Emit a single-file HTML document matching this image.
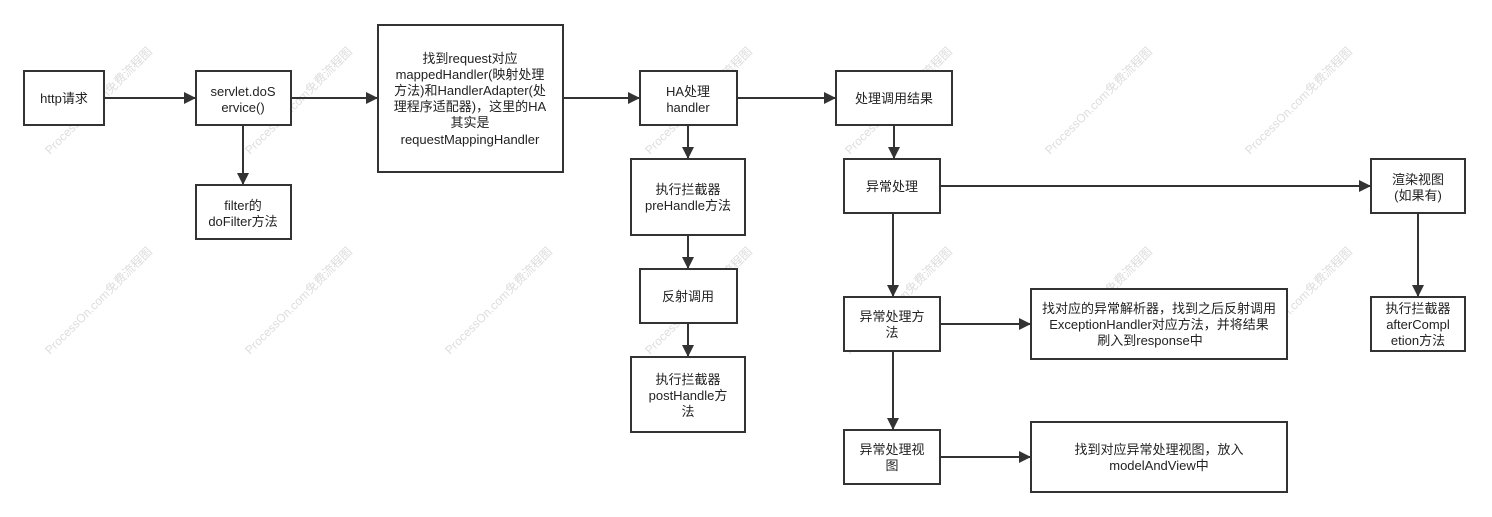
<!DOCTYPE html>
<html><head><meta charset="utf-8"><style>
html,body{margin:0;padding:0;background:#fff;width:1492px;height:517px;overflow:hidden;}
svg{display:block;overflow:hidden;}
text{font-family:"Liberation Sans","Noto Sans CJK SC",sans-serif;font-size:13px;fill:#222;text-anchor:middle;}
rect{fill:#fff;stroke:#333;stroke-width:2;}
line{stroke:#333;stroke-width:2;}
.w{font-size:12px;fill:#ddd;text-anchor:start;}
</style></head><body>
<svg width="1492" height="517" viewBox="0 0 1492 517">
<defs><marker id="a" markerWidth="12" markerHeight="12" refX="11" refY="6" orient="auto" markerUnits="userSpaceOnUse"><path d="M0,0 L12,6 L0,12 z" fill="#333"/></marker></defs>
<g>
<text class="w" transform="translate(50,155) rotate(-45)">ProcessOn.com免费流程图</text>
<text class="w" transform="translate(250,155) rotate(-45)">ProcessOn.com免费流程图</text>
<text class="w" transform="translate(450,155) rotate(-45)">ProcessOn.com免费流程图</text>
<text class="w" transform="translate(650,155) rotate(-45)">ProcessOn.com免费流程图</text>
<text class="w" transform="translate(850,155) rotate(-45)">ProcessOn.com免费流程图</text>
<text class="w" transform="translate(1050,155) rotate(-45)">ProcessOn.com免费流程图</text>
<text class="w" transform="translate(1250,155) rotate(-45)">ProcessOn.com免费流程图</text>
<text class="w" transform="translate(50,355) rotate(-45)">ProcessOn.com免费流程图</text>
<text class="w" transform="translate(250,355) rotate(-45)">ProcessOn.com免费流程图</text>
<text class="w" transform="translate(450,355) rotate(-45)">ProcessOn.com免费流程图</text>
<text class="w" transform="translate(650,355) rotate(-45)">ProcessOn.com免费流程图</text>
<text class="w" transform="translate(850,355) rotate(-45)">ProcessOn.com免费流程图</text>
<text class="w" transform="translate(1050,355) rotate(-45)">ProcessOn.com免费流程图</text>
<text class="w" transform="translate(1250,355) rotate(-45)">ProcessOn.com免费流程图</text>
</g>
<line x1="104" y1="98" x2="195" y2="98" marker-end="url(#a)"/>
<line x1="291" y1="98" x2="377" y2="98" marker-end="url(#a)"/>
<line x1="563" y1="98" x2="639" y2="98" marker-end="url(#a)"/>
<line x1="737" y1="98" x2="835" y2="98" marker-end="url(#a)"/>
<line x1="243" y1="125" x2="243" y2="184" marker-end="url(#a)"/>
<line x1="688" y1="125" x2="688" y2="158" marker-end="url(#a)"/>
<line x1="688" y1="235" x2="688" y2="268" marker-end="url(#a)"/>
<line x1="688" y1="323" x2="688" y2="356" marker-end="url(#a)"/>
<line x1="894" y1="125" x2="894" y2="158" marker-end="url(#a)"/>
<line x1="940" y1="186" x2="1370" y2="186" marker-end="url(#a)"/>
<line x1="893" y1="213" x2="893" y2="296" marker-end="url(#a)"/>
<line x1="893" y1="351" x2="893" y2="429" marker-end="url(#a)"/>
<line x1="940" y1="324" x2="1030" y2="324" marker-end="url(#a)"/>
<line x1="940" y1="457" x2="1030" y2="457" marker-end="url(#a)"/>
<line x1="1418" y1="213" x2="1418" y2="296" marker-end="url(#a)"/>

<rect x="24" y="71" width="80" height="54"/><text x="64" y="103">http请求</text>
<rect x="196" y="71" width="95" height="54"/><text x="243" y="96">servlet.doS</text><text x="243" y="112">ervice()</text>
<rect x="196" y="185" width="95" height="54"/><text x="243" y="210">filter的</text><text x="243" y="226">doFilter方法</text>
<rect x="378" y="25" width="185" height="147"/>
<text x="470" y="63">找到request对应</text><text x="470" y="79">mappedHandler(映射处理</text><text x="470" y="95">方法)和HandlerAdapter(处</text><text x="470" y="111">理程序适配器)，这里的HA</text><text x="470" y="127">其实是</text><text x="470" y="144">requestMappingHandler</text>
<rect x="640" y="71" width="97" height="54"/><text x="688" y="96">HA处理</text><text x="688" y="112">handler</text>
<rect x="631" y="159" width="114" height="76"/><text x="688" y="194">执行拦截器</text><text x="688" y="210">preHandle方法</text>
<rect x="640" y="269" width="97" height="54"/><text x="688" y="301">反射调用</text>
<rect x="631" y="357" width="114" height="75"/><text x="688" y="384">执行拦截器</text><text x="688" y="400">postHandle方</text><text x="688" y="416">法</text>
<rect x="836" y="71" width="116" height="54"/><text x="894" y="103">处理调用结果</text>
<rect x="844" y="159" width="96" height="54"/><text x="892" y="191">异常处理</text>
<rect x="1371" y="159" width="94" height="54"/><text x="1418" y="184">渲染视图</text><text x="1418" y="200">(如果有)</text>
<rect x="844" y="297" width="96" height="54"/><text x="892" y="321">异常处理方</text><text x="892" y="337">法</text>
<rect x="1031" y="289" width="256" height="70"/><text x="1159" y="313">找对应的异常解析器，找到之后反射调用</text><text x="1159" y="329">ExceptionHandler对应方法，并将结果</text><text x="1150" y="345">刷入到response中</text>
<rect x="1371" y="297" width="94" height="54"/><text x="1418" y="313">执行拦截器</text><text x="1418" y="329">afterCompl</text><text x="1418" y="345">etion方法</text>
<rect x="844" y="430" width="96" height="54"/><text x="892" y="454">异常处理视</text><text x="892" y="470">图</text>
<rect x="1031" y="422" width="256" height="70"/><text x="1159" y="454">找到对应异常处理视图，放入</text><text x="1159" y="470">modelAndView中</text>
</svg>
</body></html>
